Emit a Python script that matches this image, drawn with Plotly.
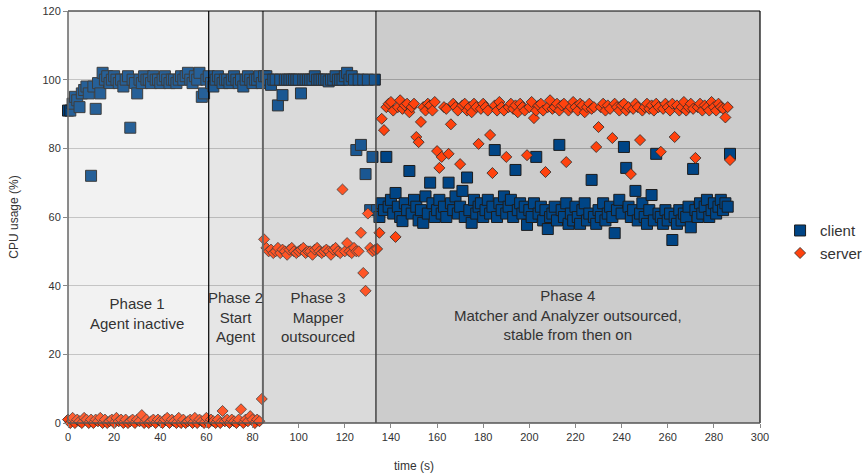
import plotly.graph_objects as go

# ---------------- data ----------------
time_s = list(range(0, 288))

client = [
    91, 91, 93, 95, 94, 92, 96, 97, 98, 96,
    72, 98, 91.5, 99, 96, 102, 100, 101, 99, 100,
    101, 100, 99, 100, 98, 100, 101, 86, 100, 99,
    96, 100, 99, 101, 100, 100, 99, 101, 100, 100,
    99, 100, 101, 100, 99, 100, 100, 99, 100, 101,
    100, 101, 102, 100, 99, 101, 100, 102, 95, 96,
    100, 101, 99, 98, 100, 101, 100, 99, 100, 100,
    99, 100, 101, 100, 99, 100, 98, 100, 101, 100,
    99, 100, 100, 101, 99, 101, 101, 100, 98.5, 100,
    100, 92.5, 100, 95.5, 100, 100, 100, 100, 100, 100,
    100, 96, 100, 100, 100, 100, 100, 101, 100, 100,
    100, 100, 100, 99.5, 100, 100, 101, 100, 100, 100,
    101, 102, 100, 101, 100, 79.5, 100, 81, 100, 72.5,
    100, 62, 77.5, 100, 62, 60, 64, 62, 77.5, 63,
    65, 61, 67, 63, 60, 58.8, 64, 62, 73.4, 61,
    65, 63, 59, 62, 58.3, 66, 61, 70, 64, 60,
    62, 65, 61, 63, 60, 70, 64, 62, 66, 61,
    63, 67.6, 60, 71.5, 62, 58.3, 65, 61, 63, 64,
    60, 62, 65, 61, 63, 79.5, 60, 64, 62, 66,
    61, 63, 65, 60, 73.7, 62, 64, 61, 63, 57.7,
    62, 60, 64, 77.5, 61, 63, 59, 62, 56.5, 60,
    61, 63, 59, 81, 62, 60, 64, 58, 61, 59,
    63, 60, 58, 62, 64, 59, 61, 70.8, 60, 58,
    62, 60, 64, 59, 61, 63, 60, 55.3, 62, 65,
    61, 80.4, 74.3, 63, 60, 62, 67.6, 59, 61, 64,
    60, 58, 62, 66.4, 59, 78.4, 61, 60, 58, 62,
    59, 61, 53.3, 60, 58, 62, 59, 61, 60, 63,
    57, 74, 62, 60, 64, 61, 63, 65, 60, 62,
    64, 61, 63, 65, 62, 64, 63, 78.4,
]

server = [
    1, 0, 1.5, 0, 1, 0.5, 0, 1.5, 1, 0,
    1, 0, 1, 0.5, 1.5, 0, 1, 0, 0.5, 1,
    0, 1.5, 0.5, 1, 0, 1, 0, 0.5, 1, 0,
    1, 0.5, 2.3, 0, 1, 0, 0.5, 1, 0, 1,
    0.5, 0, 1, 1.5, 0, 1, 0.5, 0, 1.5, 0,
    1, 0, 0.5, 1, 0, 1.5, 0, 1, 0.5, 0,
    1.5, 0, 1, 0.5, 0, 1, 0, 3.5, 0.5, 1,
    0, 1, 0.5, 0, 1, 4, 0, 1, 0.5, 2,
    1, 0, 1, 0.5, 7, 53.5, 51, 50, 50.5, 49.5,
    50, 51, 49.5, 50.5, 50, 49, 50.5, 51, 50, 49.5,
    50, 50.5, 51, 49.5, 50, 50, 49, 50.5, 51, 50,
    49.5, 50, 50.5, 50, 49, 50.5, 51, 50, 49.5, 68,
    50, 52.4, 50, 49.5, 51, 50, 50, 55.4, 43.7, 38.5,
    61, 51, 50, 50.4, 50.7, 55.4, 88.6, 85.3, 92, 93,
    93.5, 91, 54.2, 92, 94, 91.5, 92.5, 93, 90.5, 92,
    93, 83.3, 81.8, 87.7, 92, 91, 93, 92.5, 91, 93.5,
    79.2, 74.3, 77.5, 92, 91.5, 78.4, 87, 93, 92, 91,
    75.4, 92.5, 93, 91, 92, 90.5, 93, 92, 81.3, 91.5,
    93, 92, 91, 83.9, 72.8, 92.5, 91, 93.5, 92, 91,
    77.5, 92, 93, 91.5, 92.5, 90.5, 93, 92, 91, 78,
    92, 93.5, 88.8, 91, 92.5, 93, 91, 73.1, 92, 94,
    91.5, 92, 93, 91, 92.5, 93, 76, 91, 92, 93.5,
    92, 91, 93, 92.5, 90.5, 92, 93, 91.5, 92, 80.4,
    86.2, 92, 93, 91, 92.5, 91.5, 83, 93, 92, 91,
    92.5, 93, 91, 92, 72.5, 91.5, 93, 92, 82.4, 91,
    92, 93, 91.5, 92.5, 91, 93, 92, 79, 91.5, 93,
    92, 91, 93, 83.3, 92.5, 91, 92, 93.5, 91, 92,
    93, 91.5, 77.2, 92, 93, 91, 92.5, 92, 91, 93.5,
    92, 91, 93, 92, 91.5, 89, 92, 76.6,
]

phase_edges = [0, 61, 84.5, 133.5, 300]
phase_labels = [
    "Phase 1<br>Agent inactive",
    "Phase 2<br>Start<br>Agent",
    "Phase 3<br>Mapper<br>outsourced",
    "Phase 4<br>Matcher and Analyzer outsourced,<br>stable from then on",
]
label_x = [30, 72.8, 108.4, 216.7]
label_y = [32, 31, 31, 31.5]

x_ticks = list(range(0, 301, 20))
y_ticks = list(range(0, 121, 20))

# ---------------- styling ----------------
FONT = "Liberation Sans, Arial, sans-serif"
bg_below = ["#f0f0f0", "#e3e3e3", "#d6d6d6", "#cccccc"]
tint_above = [0.15, 0.12, 0.10, 0.0]
sep_style = [("#000000", 1.2), ("#666666", 2), ("#444444", 1.5)]

fig = go.Figure()

fig.add_trace(go.Scatter(
    x=time_s, y=client, mode="markers", name="client", cliponaxis=False,
    marker=dict(symbol="square", size=11, color="#004586",
                line=dict(color="#1c1c1c", width=1)),
))
fig.add_trace(go.Scatter(
    x=time_s, y=server, mode="markers", name="server", cliponaxis=False,
    marker=dict(symbol="diamond", size=8.5, color="#ff420e",
                line=dict(color="#2a2a2a", width=0.8)),
))

shapes = []
for i in range(4):
    x0, x1 = phase_edges[i], phase_edges[i + 1]
    shapes.append(dict(type="rect", xref="x", yref="y", x0=x0, x1=x1, y0=0, y1=120,
                       fillcolor=bg_below[i], line=dict(width=0), layer="below"))
    if tint_above[i] > 0:
        shapes.append(dict(type="rect", xref="x", yref="y", x0=x0, x1=x1, y0=0, y1=120,
                           fillcolor="white", opacity=tint_above[i],
                           line=dict(width=0), layer="above"))
for i, (c, w) in enumerate(sep_style):
    xe = phase_edges[i + 1]
    shapes.append(dict(type="line", xref="x", yref="y", x0=xe, x1=xe, y0=0, y1=120,
                       line=dict(color=c, width=w), layer="above"))
# frame
shapes.append(dict(type="line", xref="paper", yref="paper", x0=0, x1=1, y0=1, y1=1,
                   line=dict(color="#000000", width=1.2), layer="above"))
shapes.append(dict(type="line", xref="paper", yref="paper", x0=1, x1=1, y0=0, y1=1,
                   line=dict(color="#000000", width=1.2), layer="above"))
shapes.append(dict(type="line", xref="paper", yref="paper", x0=0, x1=0, y0=0, y1=1,
                   line=dict(color="#666666", width=1.5), layer="above"))
shapes.append(dict(type="line", xref="paper", yref="paper", x0=0, x1=1, y0=0, y1=0,
                   line=dict(color="#555555", width=1.5), layer="above"))

annotations = []
for txt, xa, ya in zip(phase_labels, label_x, label_y):
    annotations.append(dict(x=xa, y=ya, xref="x", yref="y", text=txt, showarrow=False,
                            font=dict(family=FONT, size=15, color="#333333"),
                            align="center"))

fig.update_layout(
    width=868, height=475,
    margin=dict(l=68, r=108, t=11, b=52, autoexpand=False),
    paper_bgcolor="white", plot_bgcolor="white",
    shapes=shapes, annotations=annotations,
    font=dict(family=FONT, color="#333333"),
    showlegend=True,
    legend=dict(x=1.029, y=0.44, xanchor="left", yanchor="middle",
                font=dict(family=FONT, size=15, color="#333333"),
                bgcolor="rgba(0,0,0,0)", itemsizing="trace", tracegroupgap=0),
    xaxis=dict(range=[0, 300], tickvals=x_ticks, showgrid=False, zeroline=False,
               automargin=False,
               ticks="outside", ticklen=4, tickcolor="#888888",
               tickfont=dict(family=FONT, size=11, color="#333333"),
               title=dict(text="time (s)", font=dict(family=FONT, size=12, color="#333333"),
                          standoff=19)),
    yaxis=dict(range=[0, 120], tickvals=y_ticks, showgrid=True,
               gridcolor="rgba(0,0,0,0.22)", gridwidth=1, zeroline=False,
               automargin=False,
               ticks="outside", ticklen=4, tickcolor="#888888",
               tickfont=dict(family=FONT, size=11, color="#333333"),
               title=dict(text="CPU usage (%)", font=dict(family=FONT, size=12, color="#333333"),
                          standoff=21)),
)

fig.write_html("out.html", config={"displayModeBar": False},
               post_script="document.body.style.margin='0';")
